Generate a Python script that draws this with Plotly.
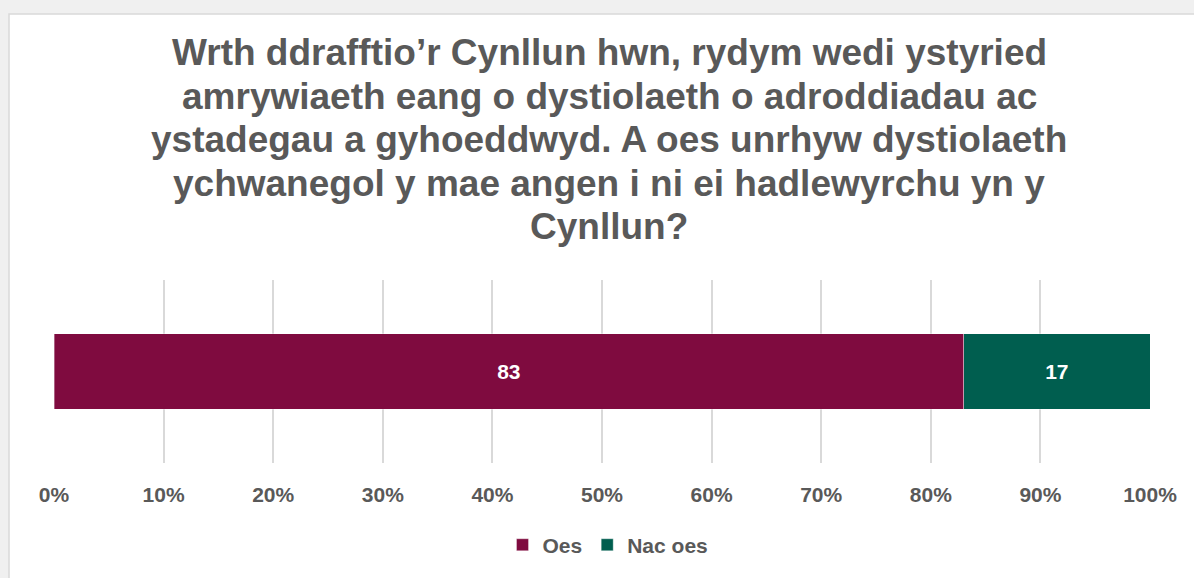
import plotly.graph_objects as go

# Survey answer shares (percent)
title_lines = [
    "Wrth ddrafftio’r Cynllun hwn, rydym wedi ystyried",
    "amrywiaeth eang o dystiolaeth o adroddiadau ac",
    "ystadegau a gyhoeddwyd. A oes unrhyw dystiolaeth",
    "ychwanegol y mae angen i ni ei hadlewyrchu yn y",
    "Cynllun?",
]
answers = ["Oes", "Nac oes"]
shares = [83, 17]
colors = ["#7f0b3f", "#005e4f"]
tick_vals = [0, 10, 20, 30, 40, 50, 60, 70, 80, 90, 100]
tick_text = ["0%", "10%", "20%", "30%", "40%", "50%", "60%", "70%", "80%", "90%", "100%"]

font_family = "Liberation Sans, Arial, sans-serif"
grey = "#595959"

# plot area in pixels (from the reference)
left, right, top, bottom = 54, 1150, 280, 465
W, H = 1194, 578
plot_h = bottom - top

fig = go.Figure()
for name, val, col in zip(answers, shares, colors):
    fig.add_trace(go.Bar(
        x=[val], y=["q"], name="<b>" + name + "</b>", orientation="h",
        marker=dict(color=col, line=dict(color="rgba(255,255,255,0.35)", width=1)),
        text=["<b>" + str(val) + "</b>"], textposition="inside", insidetextanchor="middle",
        textfont=dict(color="white", size=21, family=font_family),
        width=0.41,
    ))

# title drawn line by line to match the line spacing
annotations = []
for i, line in enumerate(title_lines):
    ypix = 50 + 44 * i
    annotations.append(dict(
        text="<b>" + line + "</b>", xref="paper", yref="paper",
        x=(609 - left) / (right - left), y=(bottom - ypix) / plot_h,
        xanchor="center", yanchor="middle", showarrow=False,
        font=dict(size=37, color=grey, family=font_family),
    ))

fig.update_layout(
    width=W, height=H,
    barmode="stack",
    paper_bgcolor="#f0f0f0",
    plot_bgcolor="white",
    margin=dict(l=left, r=W - right, t=top, b=H - bottom),
    font=dict(family=font_family, color=grey),
    showlegend=True,
    legend=dict(orientation="h", x=(608 - left) / (right - left), xanchor="center",
                y=(bottom - 548) / plot_h, yanchor="middle",
                font=dict(size=21, color=grey), traceorder="normal", itemwidth=30,
                bgcolor="rgba(0,0,0,0)"),
    annotations=annotations,
    shapes=[dict(type="rect", xref="paper", yref="paper", layer="below",
                 x0=(9 - left) / (right - left), x1=(1210 - left) / (right - left),
                 y0=(bottom - 600) / plot_h, y1=(bottom - 11) / plot_h,
                 fillcolor="white", line=dict(color="#d9d9d9", width=1.5))],
)

fig.update_xaxes(range=[0, 100], tickvals=tick_vals,
                 ticktext=["<b>" + t + "</b>" for t in tick_text],
                 showgrid=True, gridcolor="#d9d9d9", gridwidth=1.5,
                 zeroline=False, showline=False,
                 tickfont=dict(size=21, color=grey, family=font_family),
                 ticklabelstandoff=17)
fig.update_yaxes(range=[-0.5, 0.5], showticklabels=False, showgrid=False, zeroline=False)

fig.write_html("out.html", config={"displayModeBar": False},
               post_script="document.body.style.margin='0';")
